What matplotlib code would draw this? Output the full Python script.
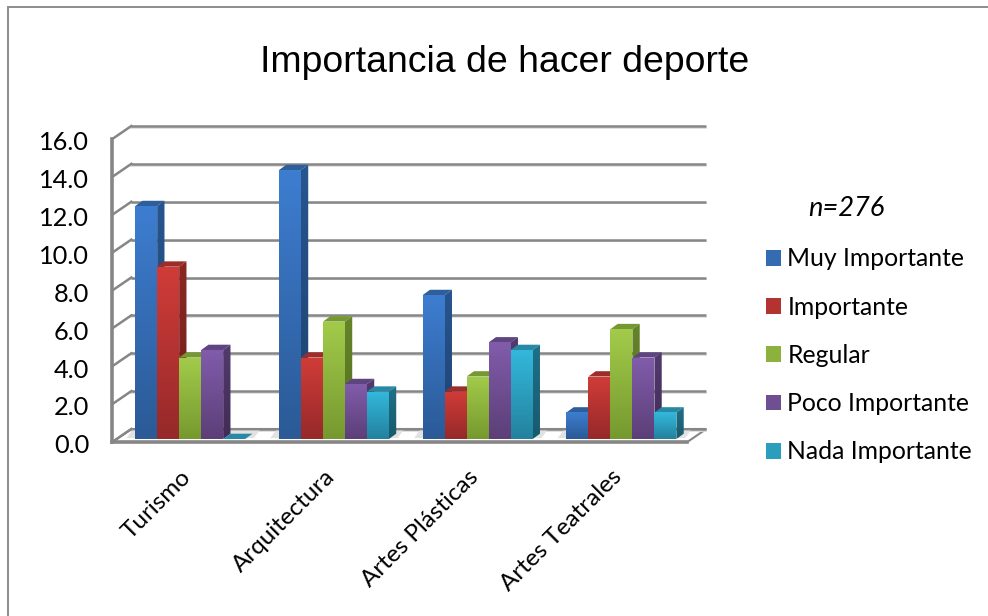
import matplotlib
matplotlib.use("Agg")
import matplotlib.pyplot as plt
from matplotlib.colors import LinearSegmentedColormap, to_rgb
from matplotlib.lines import Line2D
from matplotlib.patches import Patch, Polygon
from matplotlib.transforms import ScaledTranslation
import numpy as np

plt.rcParams["font.family"] = ["Lato", "DejaVu Sans"]

categories = ["Turismo", "Arquitectura", "Artes Plásticas", "Artes Teatrales"]
series_names = ["Muy Importante", "Importante", "Regular", "Poco Importante", "Nada Importante"]
muy_importante = [12.3, 14.2, 7.6, 1.4]
importante = [9.1, 4.3, 2.5, 3.3]
regular = [4.3, 6.2, 3.3, 5.8]
poco_importante = [4.7, 2.9, 5.1, 4.3]
nada_importante = [0.0, 2.5, 4.7, 1.4]
y_ticks = [0, 2, 4, 6, 8, 10, 12, 14, 16]

series = [muy_importante, importante, regular, poco_importante, nada_importante]

# colours per series: front top, front bottom, side top, side bottom, top face
colors = [
    ("#3D7DD0", "#2B5A96", "#27558F", "#1F4270", "#2E5F9B"),
    ("#D03C38", "#96292A", "#8A2723", "#6E1F1D", "#9E2C29"),
    ("#A2CB4A", "#76992F", "#66842A", "#546E22", "#769830"),
    ("#815CAB", "#5C3F78", "#523A6E", "#402C56", "#5F4482"),
    ("#33B8DC", "#23829E", "#1F7088", "#185A6D", "#2789A6"),
]

W, H = 988, 616
LEFT, RIGHT, BASE, TOP = 118.3, 693.3, 439, 136
PX_X = (RIGHT - LEFT) / 4
PX_Y = (BASE - TOP) / 16
BAR_W = 22 / PX_X
DEPTH_X, DEPTH_Y = 7.3 / PX_X, 5.3 / PX_Y
BACK_X, BACK_Y = 13 / PX_X, 10 / PX_Y
FRONT_X, FRONT_Y = -6 / PX_X, -3 / PX_Y
GRID = "#868686"


def gradient_fill(ax, verts, top, bottom, zorder):
    verts = np.array(verts)
    cmap = LinearSegmentedColormap.from_list("g", [bottom, top])
    extent = (verts[:, 0].min(), verts[:, 0].max(), verts[:, 1].min(), verts[:, 1].max())
    im = ax.imshow(np.linspace(0, 1, 64).reshape(-1, 1), cmap=cmap, origin="lower", extent=extent,
                   aspect="auto", interpolation="bilinear", zorder=zorder)
    im.set_clip_path(Polygon(verts, transform=ax.transData))


fig = plt.figure(figsize=(W / 100, H / 100), dpi=100)
# chart frame: only the left and top edges fall inside the picture
fig.add_artist(Line2D([8 / W, 8 / W, 1], [0, 1 - 7 / H, 1 - 7 / H], transform=fig.transFigure,
                      color="#8C8C8C", lw=1.4, solid_joinstyle="miter"))
ax = fig.add_axes([LEFT / W, 1 - BASE / H, (RIGHT - LEFT) / W, (BASE - TOP) / H])
ax.patch.set_alpha(0)
for spine in ax.spines.values():
    spine.set_visible(False)

# walls and floor
floor = [(FRONT_X, FRONT_Y), (BACK_X, BACK_Y), (4 + BACK_X, BACK_Y), (4 + FRONT_X, FRONT_Y)]
ax.add_patch(Polygon(floor, closed=True, facecolor="white", edgecolor=GRID, lw=1.5, clip_on=False, zorder=1))
for v in y_ticks:
    ax.plot([BACK_X, 4 + BACK_X], [v + BACK_Y - 0.09] * 2, color="#DCDCDC", lw=1.2, clip_on=False, zorder=1)
    ax.plot([BACK_X, 4 + BACK_X], [v + BACK_Y] * 2, color=GRID, lw=1.8, clip_on=False, zorder=1.1,
            solid_capstyle="butt")
    ax.plot([FRONT_X, BACK_X], [v + FRONT_Y, v + BACK_Y], color=GRID, lw=1.8, clip_on=False, zorder=1.1)
ax.plot([FRONT_X, FRONT_X], [FRONT_Y, 16 + FRONT_Y], color=GRID, lw=2.6, clip_on=False, zorder=1.2)
ax.plot([FRONT_X, 4 + FRONT_X], [FRONT_Y, FRONT_Y], color=GRID, lw=2.6, clip_on=False, zorder=1.2)

# bars, drawn left to right so each one covers the side of the previous one
z = 3.0
for g in range(len(categories)):
    start = g + 0.5 - BAR_W * len(series) / 2
    ax.add_patch(Polygon([(start - 0.06, 0.05), (start - 0.02, BACK_Y * 0.85),
                          (start + BAR_W * 5 + 0.1, BACK_Y * 0.85), (start + BAR_W * 5 + 0.06, 0.05)],
                         closed=True, facecolor="#E2E2E2", edgecolor="none", zorder=2))
    for s, values in enumerate(series):
        v = values[g]
        x0, x1 = start + s * BAR_W, start + (s + 1) * BAR_W
        front_top, front_bot, side_top, side_bot, top_face = colors[s]
        ax.add_patch(Polygon([(x0, v), (x0 + DEPTH_X, v + DEPTH_Y), (x1 + DEPTH_X, v + DEPTH_Y), (x1, v)],
                             closed=True, facecolor=top_face, edgecolor="none", zorder=z))
        if v > 0:
            side = [(x1, 0), (x1 + DEPTH_X, DEPTH_Y), (x1 + DEPTH_X, v + DEPTH_Y), (x1, v)]
            gradient_fill(ax, side, side_top, side_bot, z)
            front = [(x0, 0), (x1, 0), (x1, v), (x0, v)]
            gradient_fill(ax, front, front_top, front_bot, z + 0.1)
        z += 0.2

ax.set_xlim(0, 4)
ax.set_ylim(0, 16)
ax.set_yticks(y_ticks)
ax.set_yticklabels([f"{v:.1f}" for v in y_ticks], fontsize=18.3, color="black")
ax.tick_params(axis="y", length=0, pad=21)
ax.set_xticks(np.arange(len(categories)) + 0.5)
ax.set_xticklabels(categories, rotation=45, ha="right", rotation_mode="anchor", fontsize=17.5, color="black")
ax.tick_params(axis="x", length=0, pad=18)
for label in ax.get_yticklabels():
    label.set_transform(label.get_transform() + ScaledTranslation(0, -3.5 / 72, fig.dpi_scale_trans))
for label in ax.get_xticklabels():
    label.set_transform(label.get_transform() + ScaledTranslation(-10 / 100, -2 / 100, fig.dpi_scale_trans))

# legend swatches use the middle of each bar gradient
handles = [Patch(facecolor=(np.array(to_rgb(c[0])) + np.array(to_rgb(c[1]))) / 2, edgecolor="none") for c in colors]
fig.legend(handles, series_names, loc="upper left", bbox_to_anchor=(766 / W, 1 - 247.5 / H), frameon=False,
           fontsize=17.8, handlelength=0.6, handleheight=0.6, handletextpad=0.26, labelspacing=1.02,
           borderpad=0, borderaxespad=0)

fig.text(846.5 / W, 1 - 208 / H, "n=276", style="italic", fontsize=19.6, ha="center", va="center", color="black")
fig.text(504.5 / W, 1 - 63 / H, "Importancia de hacer deporte", family="Liberation Sans", fontsize=26.9,
         ha="center", va="center", color="black")

fig.savefig("out.png", dpi=100)
plt.close(fig)
